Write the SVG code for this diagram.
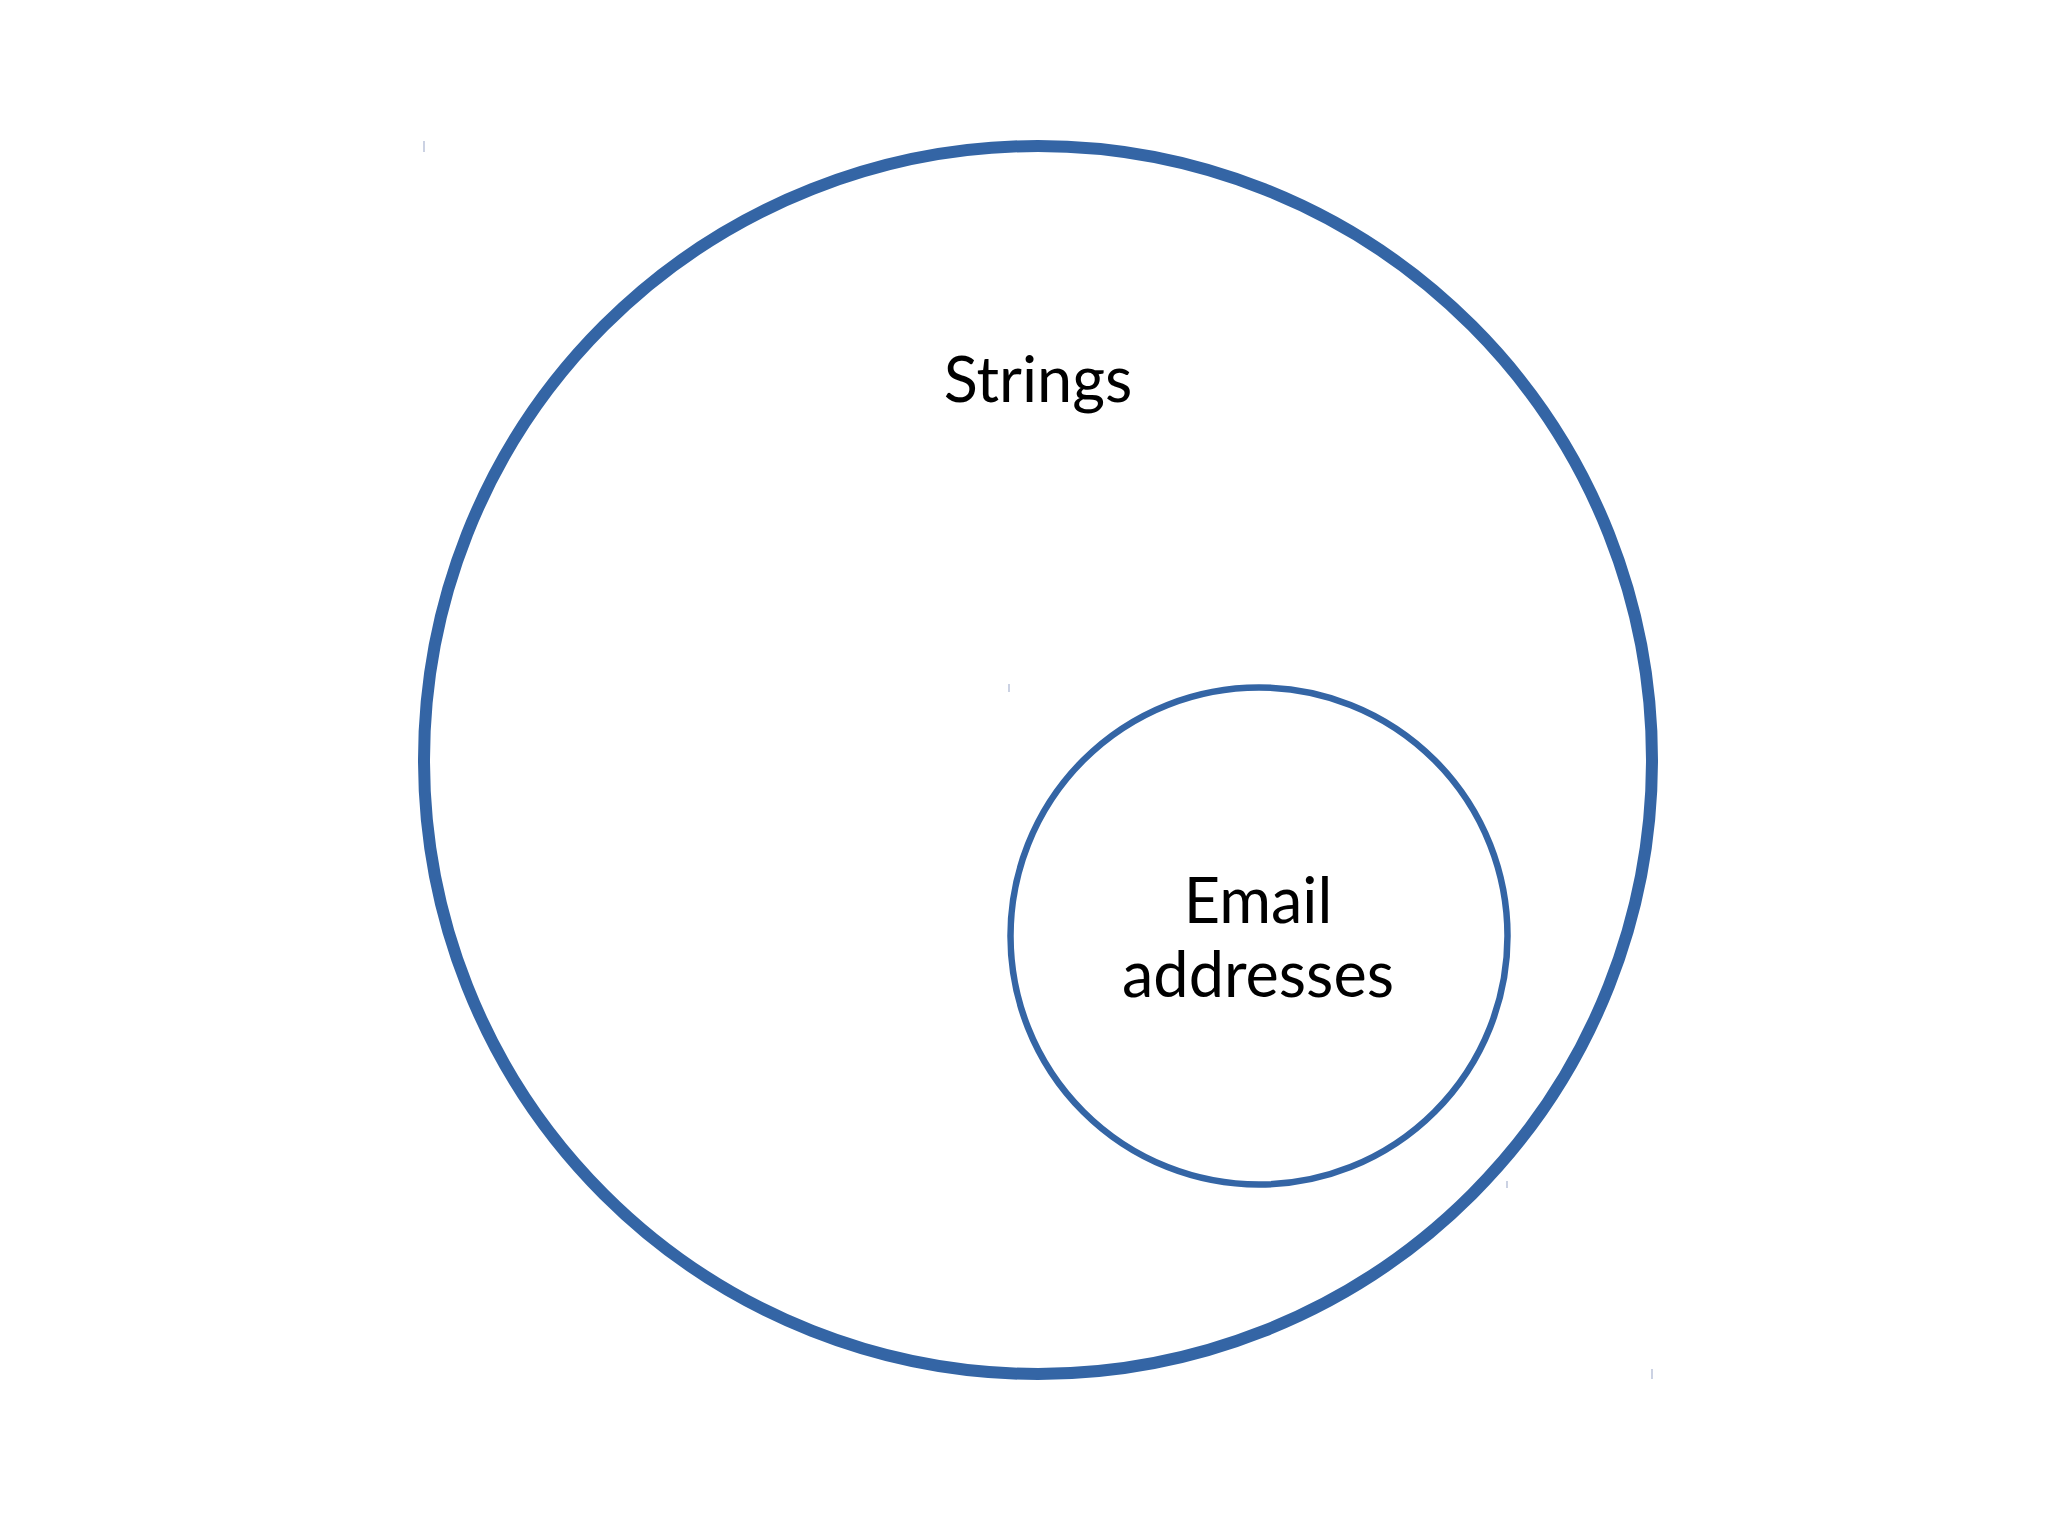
<svg xmlns="http://www.w3.org/2000/svg" width="2048" height="1535" viewBox="0 0 2048 1535">
  <style>
    .ring { fill: none; stroke: #3465a5; }
    .label { font-family: Lato, "Liberation Sans", sans-serif; font-size: 63px; fill: #000; text-anchor: middle; }
    .tick { stroke: #a9b4d0; stroke-width: 1.2; }
  </style>
  <rect width="2048" height="1535" fill="#ffffff"/>
  <g id="strings">
    <circle class="ring" cx="1038" cy="760" r="614" stroke-width="12"/>
    <text class="label" x="1038" y="402">Strings</text>
  </g>
  <g id="email-addresses">
    <circle class="ring" cx="1259" cy="936" r="248.5" stroke-width="6.5"/>
    <text class="label" x="1258" y="923">Email</text>
    <text class="label" x="1258" y="997">addresses</text>
  </g>
  <g id="connectors"></g>
  <g id="marks">
    <line class="tick" x1="424" y1="141" x2="424" y2="152"/>
    <line class="tick" x1="1009" y1="684" x2="1009" y2="692"/>
    <line class="tick" x1="1507" y1="1181" x2="1507" y2="1188"/>
    <line class="tick" x1="1652" y1="1369" x2="1652" y2="1379"/>
  </g>
</svg>
